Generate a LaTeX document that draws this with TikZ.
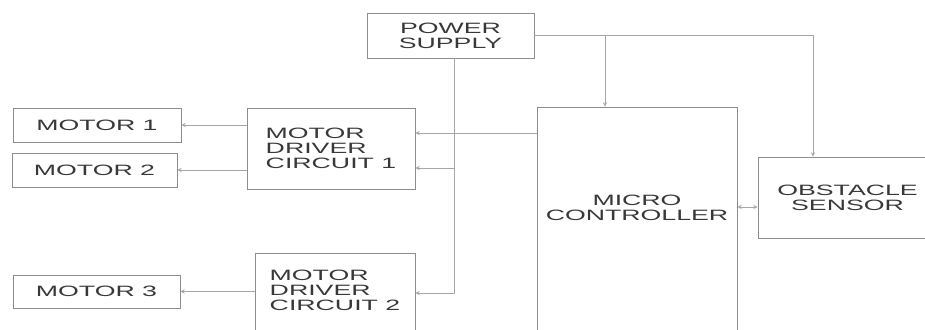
\documentclass[tikz,border=0pt]{standalone}
\usepackage{fontspec}
\setmainfont{Liberation Sans}[FakeStretch=1.78]
\usetikzlibrary{calc}

\begin{document}
\begin{tikzpicture}[x=1pt, y=-1pt, >=stealth,
    txt/.style={text=black!78, font=\fontsize{15}{15}\selectfont},
    block/.style={txt, draw=black!45, line width=0.9pt, inner sep=0pt, align=center},
    wire/.style={draw=black!35, line width=0.9pt}]
    \useasboundingbox (0,0) rectangle (925,329);
    \clip (0,0) rectangle (925,329);

    % Draw the blocks
    \node[block, minimum width=167, minimum height=45] (power) at (450.5,35.5) {POWER\\SUPPLY};
    \node[block, minimum width=200, minimum height=233,
          label={[txt, align=center, yshift=15.5pt]center:{MICRO\\CONTROLLER}}] (mc) at (637,223.5) {};
    \node[block, minimum width=179, minimum height=81] (obs) at (847.5,197.5) {OBSTACLE\\SENSOR};
    \node[block, align=left, minimum width=168, minimum height=81] (drv1) at (331,148.5) {MOTOR\\DRIVER\\CIRCUIT 1};
    \node[block, minimum width=160, minimum height=87,
          label={[txt, align=left, yshift=6.5pt]center:{MOTOR\\DRIVER\\CIRCUIT 2}}] (drv2) at (335,296.5) {};
    \node[block, minimum width=168, minimum height=34] (m1) at (97,125) {MOTOR 1};
    \node[block, minimum width=165, minimum height=34] (m2) at (94.5,170) {MOTOR 2};
    \node[block, minimum width=167, minimum height=33] (m3) at (96.5,291.5) {MOTOR 3};

    % Add some tap points
    \coordinate (tap) at (813,0);
    \coordinate (mctap) at (605,0);
    \coordinate (bus) at (454,293);
    \coordinate (hi) at ($(drv1.east)+(0,-15.5)$);
    \coordinate (lo) at ($(drv1.east)+(0,19.5)$);
    \coordinate (ox) at ($(obs.west)+(0,9.5)$);

    % Power supply lines
    \draw[wire, ->] (power.east) -| (tap |- obs.north);
    \draw[wire, ->] (power.east -| mctap) -- (mctap |- mc.north);
    \draw[wire, ->] (power.south -| bus) -- (bus) -- (bus -| drv2.east);
    \draw[wire, ->] (bus |- lo) -- (lo);

    % Add arrows
    \draw[wire, ->] (mc.west |- hi) -- (hi);
    \draw[wire, <->] (mc.east |- ox) -- (ox);
    \draw[wire, ->] (drv1.west |- m1.east) -- (m1.east);
    \draw[wire, ->] (drv1.west |- m2.east) -- (m2.east);
    \draw[wire, ->] (drv2.west |- m3.east) -- (m3.east);
\end{tikzpicture}
\end{document}
